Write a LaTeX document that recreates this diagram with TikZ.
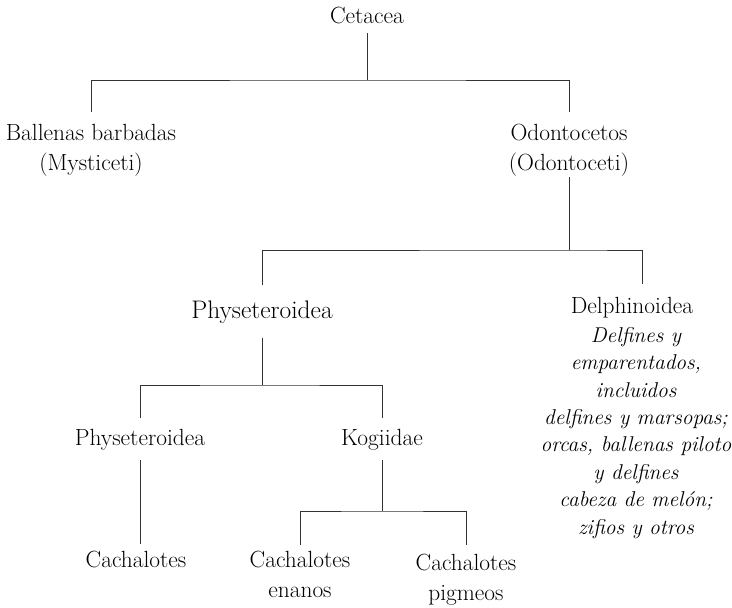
\documentclass[tikz,border=0pt]{standalone}
\usepackage{fontspec}
\begin{document}
\begin{tikzpicture}[x=1pt, y=-1pt, line width=0.9pt,
  main/.style = {anchor=base, align=center, inner xsep=0pt, inner ysep=10pt, font=\fontsize{23.4}{29.5}\selectfont},
  note/.style = {anchor=base, align=center, inner sep=0pt, font=\fontsize{21.4}{27.4}\selectfont\itshape},
  link/.style = {draw=black!80}]
\useasboundingbox (0,0) rectangle (732,608);

% multi-line nodes sit on the baseline of their last line
\node[main, inner ysep=9pt] (1) at (367,23) {Cetacea};
\node[main, inner ysep=11.8pt] (2) at (91,170) {Ballenas barbadas\\(Mysticeti)};
\node[main, inner ysep=1pt] (3) at (569,170) {Odontocetos\\(Odontoceti)};
\node[main, inner ysep=14.5pt, font=\fontsize{25.4}{30}\selectfont] (4) at (262,318) {Physeteroidea};
\node[main, inner ysep=12.8pt] (5) at (632,313) {Delphinoidea};
\node[note] (6) at (636,534) {Delfines y\\emparentados,\\incluidos\\delfines y marsopas;\\orcas, ballenas piloto\\y delfines\\cabeza de melón;\\zifios y otros};
\node[main] (7) at (140,445) {Physeteroidea};
\node[main] (8) at (382,445) {Kogiidae};
\node[main, inner ysep=5.8pt] (9) at (136,567) {Cachalotes};
\node[main, inner ysep=5.8pt] (10) at (300,597) {Cachalotes\\enanos};
\node[main, inner ysep=8.8pt] (11) at (466,600) {Cachalotes\\pigmeos};

% junctions
\coordinate (a) at (365,80);
\coordinate (b) at (573,250);
\coordinate (c) at (258,385);
\coordinate (d) at (381,511);

\draw[link] (1) -- (1 |- a);
\draw[link, shorten >=10.8pt] (2) |- (a) -| (3);
\draw[link] (3) -- (3 |- b);
\draw[link] (4) |- (b) -| ([xshift=10pt]5.north);
\draw[link] (4) -- (4 |- c);
\draw[link] (7) |- (c) -| (8);
\draw[link] (7) -- (7 |- 9.north);
\draw[link] (8) -- (8 |- d);
\draw[link] (10) |- (d) -| (11);
\end{tikzpicture}
\end{document}
